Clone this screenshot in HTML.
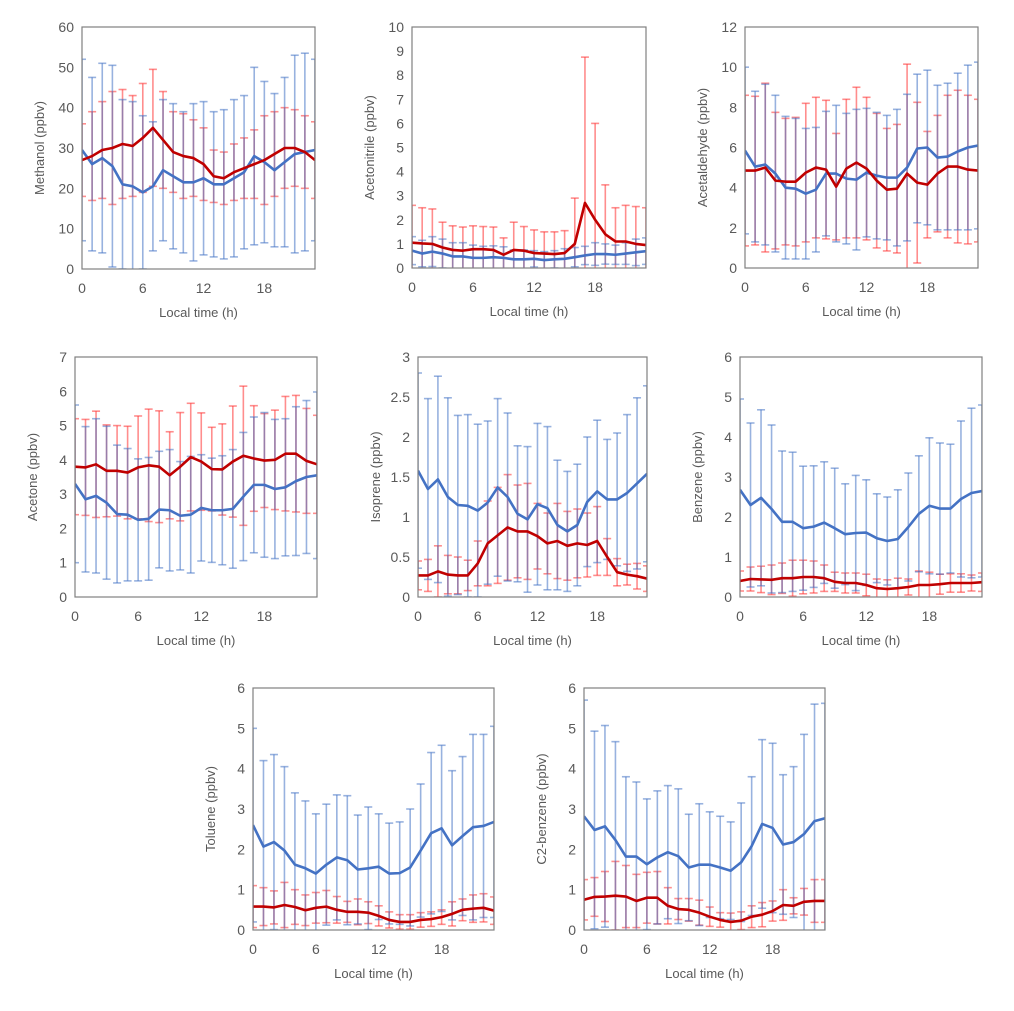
<!DOCTYPE html>
<html><head><meta charset="utf-8"><style>
html,body{margin:0;padding:0;background:#fff;width:1014px;height:1011px;overflow:hidden}
text{font-family:"Liberation Sans",sans-serif;fill:#595959}
</style></head><body>
<svg id="c" width="1014" height="1011" xmlns="http://www.w3.org/2000/svg"></svg>
<script>
const hours=[0,1,2,3,4,5,6,7,8,9,10,11,12,13,14,15,16,17,18,19,20,21,22,23];
const xTicks=[0,6,12,18];
// Methanol
const methRed=[27,28,29.5,30,31,30.5,32.5,35,32,29,28,27.5,26,23,22.5,24,25,26,27,28.5,30,30,29,27];
const methRedSd=[9,11,12,14,13.5,12.5,13.5,14.5,12,10,10.5,9.5,9,6.5,6.5,7,7.5,8.5,11,10.5,10,9.5,9,9.5];
const methBlue=[29.5,26,27.5,25.5,21,20.5,19,20.5,24.5,23,21.5,21.5,22.5,21,21,22.5,24,28,26.5,24.5,26.5,28.5,29,29.5];
const methBlueSd=[22.5,21.5,23.5,25,21,21,19,16,17.5,18,17.5,19.5,19,18,18.5,19.5,19,22,20,19,21,24.5,24.5,22.5];
// Acetonitrile
const acnRed=[1.05,1.02,1.0,0.85,0.75,0.72,0.78,0.78,0.75,0.55,0.75,0.72,0.62,0.6,0.58,0.62,1.0,2.7,2.0,1.4,1.1,1.1,1.0,0.95];
const acnRedSd=[1.55,1.48,1.45,1.05,1.0,0.98,0.97,0.94,0.95,0.7,1.15,1.0,0.96,0.9,0.92,0.93,1.9,6.05,4.0,2.05,1.4,1.5,1.55,1.55];
const acnBlue=[0.72,0.6,0.68,0.6,0.48,0.48,0.42,0.42,0.45,0.42,0.36,0.36,0.38,0.33,0.36,0.38,0.45,0.52,0.58,0.58,0.55,0.6,0.65,0.7];
const acnBlueSd=[0.58,0.55,0.62,0.6,0.57,0.57,0.53,0.48,0.47,0.46,0.39,0.39,0.34,0.35,0.36,0.42,0.4,0.38,0.47,0.42,0.4,0.45,0.55,0.55];
// Acetaldehyde
const aldRed=[4.85,4.85,5.0,4.35,4.3,4.3,4.75,5.0,4.9,4.05,4.95,5.25,4.95,4.35,3.9,3.95,4.7,4.25,4.15,4.7,5.05,5.05,4.9,4.85];
const aldRedSd=[3.75,3.7,4.2,3.4,3.15,3.2,3.45,3.5,3.45,2.65,3.45,3.75,3.55,3.35,3.05,3.2,5.45,4.0,2.65,2.9,3.55,3.8,3.7,3.55];
const aldBlue=[5.85,5.05,5.15,4.7,4.0,3.95,3.7,3.9,4.7,4.7,4.45,4.4,4.75,4.6,4.5,4.5,5.0,5.95,6.0,5.5,5.55,5.8,6.0,6.1];
const aldBlueSd=[4.15,3.75,4.0,3.9,3.55,3.5,3.25,3.1,3.1,3.4,3.25,3.5,3.2,3.15,3.1,3.4,3.65,3.7,3.85,3.6,3.65,3.9,4.1,4.15];
// Acetone
const aceRed=[3.8,3.78,3.87,3.68,3.68,3.63,3.78,3.84,3.8,3.55,3.8,4.08,3.95,3.73,3.72,3.95,4.12,4.04,3.98,4.0,4.18,4.18,3.97,3.87];
const aceRedSd=[1.4,1.4,1.55,1.34,1.32,1.35,1.5,1.64,1.63,1.27,1.58,1.57,1.42,1.22,1.33,1.62,2.03,1.54,1.37,1.45,1.67,1.7,1.53,1.43];
const aceBlue=[3.3,2.85,2.95,2.75,2.42,2.4,2.25,2.28,2.55,2.53,2.37,2.4,2.6,2.53,2.53,2.57,2.93,3.27,3.27,3.15,3.2,3.38,3.5,3.55];
const aceBlueSd=[2.3,2.12,2.25,2.23,2.01,1.93,1.78,1.79,1.7,1.77,1.58,1.7,1.55,1.52,1.59,1.73,1.87,1.98,2.11,2.03,2.0,2.17,2.23,2.43];
// Isoprene
const isoRed=[0.27,0.27,0.32,0.28,0.27,0.27,0.42,0.67,0.77,0.87,0.82,0.82,0.76,0.67,0.7,0.64,0.67,0.65,0.7,0.5,0.31,0.28,0.26,0.23];
const isoRedSd=[0.18,0.2,0.32,0.24,0.23,0.19,0.28,0.53,0.6,0.66,0.58,0.6,0.41,0.38,0.47,0.43,0.43,0.4,0.43,0.23,0.17,0.13,0.16,0.16];
const isoBlue=[1.58,1.35,1.47,1.25,1.15,1.14,1.08,1.18,1.37,1.25,1.04,0.97,1.16,1.11,0.9,0.82,0.9,1.19,1.32,1.22,1.22,1.3,1.42,1.54];
const isoBlueSd=[1.22,1.13,1.29,1.24,1.12,1.14,1.08,1.02,1.11,1.05,0.85,0.91,1.01,1.02,0.81,0.75,0.76,0.81,0.89,0.75,0.83,0.98,1.07,1.1];
// Benzene
const benRed=[0.4,0.45,0.44,0.43,0.47,0.47,0.5,0.5,0.47,0.38,0.35,0.35,0.3,0.22,0.2,0.22,0.25,0.3,0.3,0.32,0.35,0.35,0.35,0.37];
const benRedSd=[0.25,0.3,0.33,0.37,0.38,0.45,0.42,0.4,0.33,0.24,0.25,0.25,0.27,0.23,0.23,0.25,0.2,0.35,0.32,0.25,0.23,0.23,0.2,0.23];
const benBlue=[2.68,2.3,2.48,2.2,1.88,1.88,1.72,1.76,1.86,1.72,1.57,1.6,1.61,1.47,1.4,1.45,1.75,2.08,2.28,2.21,2.21,2.45,2.6,2.65];
const benBlueSd=[2.27,2.05,2.2,2.1,1.77,1.74,1.55,1.52,1.52,1.5,1.26,1.44,1.32,1.11,1.1,1.23,1.35,1.45,1.7,1.64,1.61,1.95,2.12,2.15];
// Toluene
const tolRed=[0.58,0.58,0.56,0.62,0.57,0.49,0.55,0.58,0.5,0.45,0.45,0.43,0.35,0.25,0.2,0.2,0.25,0.27,0.32,0.4,0.5,0.53,0.55,0.48];
const tolRedSd=[0.52,0.47,0.41,0.56,0.43,0.38,0.38,0.4,0.33,0.26,0.32,0.27,0.25,0.2,0.18,0.18,0.18,0.18,0.18,0.3,0.27,0.34,0.35,0.34];
const tolBlue=[2.6,2.07,2.18,1.97,1.62,1.53,1.4,1.62,1.8,1.73,1.5,1.53,1.57,1.4,1.41,1.55,1.97,2.4,2.52,2.1,2.33,2.55,2.58,2.68];
const tolBlueSd=[2.4,2.13,2.17,2.08,1.78,1.67,1.48,1.5,1.55,1.6,1.35,1.52,1.31,1.25,1.27,1.45,1.65,2.0,2.06,1.85,1.97,2.3,2.27,2.37];
// C2-benzene
const c2Red=[0.75,0.82,0.83,0.85,0.83,0.72,0.8,0.8,0.6,0.52,0.5,0.43,0.33,0.25,0.2,0.23,0.33,0.38,0.47,0.62,0.6,0.7,0.72,0.72];
const c2RedSd=[0.5,0.48,0.62,0.85,0.77,0.66,0.63,0.65,0.45,0.26,0.28,0.31,0.24,0.18,0.22,0.22,0.27,0.3,0.25,0.38,0.2,0.33,0.53,0.53];
const c2Blue=[2.82,2.48,2.57,2.23,1.82,1.82,1.63,1.8,1.93,1.83,1.55,1.62,1.62,1.55,1.47,1.68,2.08,2.63,2.53,2.12,2.18,2.38,2.7,2.77];
const c2BlueSd=[2.88,2.45,2.5,2.44,1.98,1.85,1.62,1.65,1.65,1.67,1.32,1.51,1.31,1.27,1.21,1.47,1.72,2.09,2.1,1.73,1.87,2.47,2.9,2.85];

const panels=[
 {id:'methanol',title:'Methanol (ppbv)',x:82,y:27,w:233,h:242,ymax:60,step:10,dec:0,r:methRed,rs:methRedSd,b:methBlue,bs:methBlueSd},
 {id:'acetonitrile',title:'Acetonitrile (ppbv)',x:412,y:27,w:234,h:241,ymax:10,step:1,dec:0,r:acnRed,rs:acnRedSd,b:acnBlue,bs:acnBlueSd},
 {id:'acetaldehyde',title:'Acetaldehyde (ppbv)',x:745,y:27,w:233,h:241,ymax:12,step:2,dec:0,r:aldRed,rs:aldRedSd,b:aldBlue,bs:aldBlueSd},
 {id:'acetone',title:'Acetone (ppbv)',x:75,y:357,w:242,h:240,ymax:7,step:1,dec:0,r:aceRed,rs:aceRedSd,b:aceBlue,bs:aceBlueSd},
 {id:'isoprene',title:'Isoprene  (ppbv)',x:418,y:357,w:229,h:240,ymax:3,step:0.5,dec:1,r:isoRed,rs:isoRedSd,b:isoBlue,bs:isoBlueSd},
 {id:'benzene',title:'Benzene (ppbv)',x:740,y:357,w:242,h:240,ymax:6,step:1,dec:0,r:benRed,rs:benRedSd,b:benBlue,bs:benBlueSd},
 {id:'toluene',title:'Toluene (ppbv)',x:253,y:688,w:241,h:242,ymax:6,step:1,dec:0,r:tolRed,rs:tolRedSd,b:tolBlue,bs:tolBlueSd},
 {id:'c2-benzene',title:'C2-benzene (ppbv)',x:584,y:688,w:241,h:242,ymax:6,step:1,dec:0,r:c2Red,rs:c2RedSd,b:c2Blue,bs:c2BlueSd}
];
const NS='http://www.w3.org/2000/svg';
const svg=document.getElementById('c');
function mk(tag,attrs,parent){const e=document.createElementNS(NS,tag);for(const k in attrs)e.setAttribute(k,attrs[k]);parent.appendChild(e);return e;}
function fmt(v,d){if(d===0)return String(Math.round(v));const s=v.toFixed(1);return s.endsWith('.0')?s.slice(0,-2):s;}
panels.forEach(p=>{
 const g=mk('g',{},svg);
 
 
 const sx=h=>p.x+h/23*p.w;
 const sy=v=>p.y+p.h-v/p.ymax*p.h;
 const cp=mk('clipPath',{id:'clip-'+p.id},g);
 mk('rect',{x:p.x,y:p.y-1,width:p.w,height:p.h+1},cp);
 // y ticks
 for(let v=0;v<=p.ymax+1e-9;v+=p.step){
  const t=mk('text',{x:p.x-8,y:sy(v)+5,'text-anchor':'end','font-size':'14'},g);
  t.textContent=fmt(v,p.dec);
  
  
 }
 xTicks.forEach(h=>{
  const t=mk('text',{x:sx(h),y:p.y+p.h+24,'text-anchor':'middle','font-size':'14'},g);
  t.textContent=String(h);
  
  
 });
 const xt=mk('text',{x:p.x+p.w/2,y:p.y+p.h+48,'text-anchor':'middle','font-size':'13'},g);
 xt.textContent='Local time (h)';
 
 
 const cy=p.y+p.h/2, cx=p.x-38;
 const yt=mk('text',{x:cx,y:cy,'text-anchor':'middle','font-size':'13',transform:'rotate(-90 '+cx+' '+cy+')'},g);
 yt.textContent=p.title;
 
 
 const eg=mk('g',{'clip-path':'url(#clip-'+p.id+')'},g);
 function bars(mean,sd,color,name){
  const bg=mk('g',{stroke:color,'stroke-opacity':'0.55','stroke-width':'1.6',fill:'none'},eg);
  
  
  hours.forEach((h,i)=>{
   const x=sx(h),y1=sy(mean[i]+sd[i]),y2=sy(mean[i]-sd[i]);
   mk('line',{x1:x,x2:x,y1:y1,y2:y2},bg);
   mk('line',{x1:x-4,x2:x+4,y1:y1,y2:y1},bg);
   mk('line',{x1:x-4,x2:x+4,y1:y2,y2:y2},bg);
  });
 }
 bars(p.r,p.rs,'#ff3030','red-error-bars');
 bars(p.b,p.bs,'#4472c4','blue-error-bars');
 const bl=mk('polyline',{points:hours.map((h,i)=>sx(h)+','+sy(p.b[i])).join(' '),fill:'none',stroke:'#4472c4','stroke-width':'2.6','stroke-linejoin':'round'},eg);
 
 
 const rl=mk('polyline',{points:hours.map((h,i)=>sx(h)+','+sy(p.r[i])).join(' '),fill:'none',stroke:'#c00000','stroke-width':'2.6','stroke-linejoin':'round'},eg);
 
 
 const fr=mk('rect',{x:p.x,y:p.y,width:p.w,height:p.h,fill:'none',stroke:'#808080','stroke-width':'1.2'},g);
 
 
});
</script>
</body></html>
